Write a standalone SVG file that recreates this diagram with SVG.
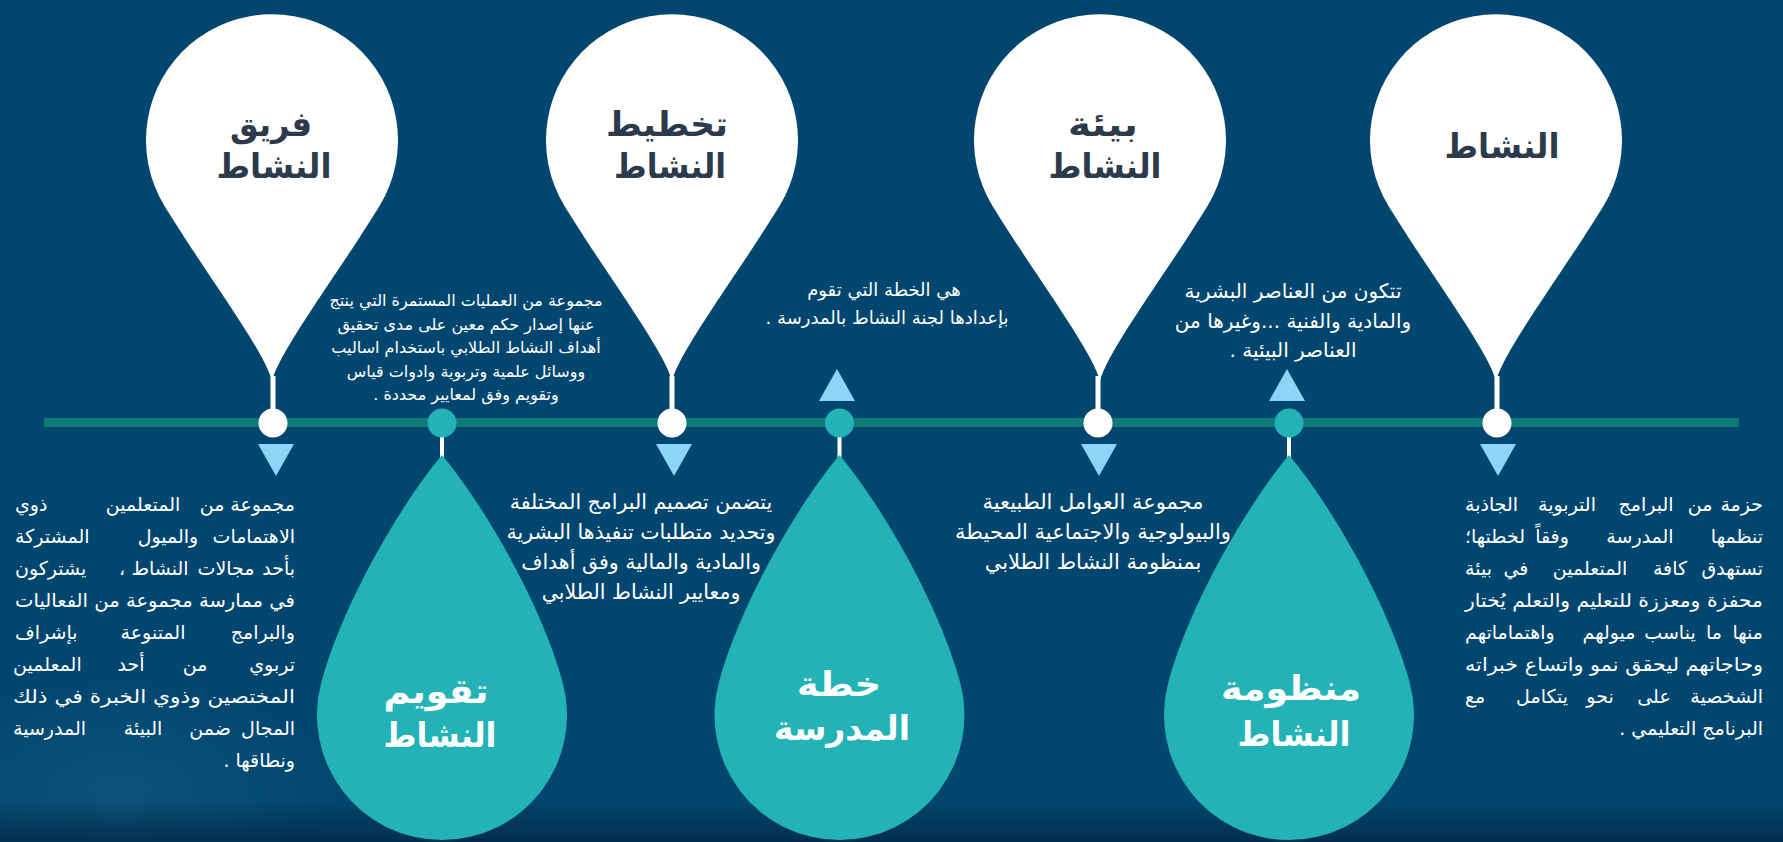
<svg xmlns="http://www.w3.org/2000/svg" width="1783" height="842" viewBox="0 0 1783 842">
<defs>
<style>
.ar{font-family:"DejaVu Sans","Noto Sans",sans-serif;direction:rtl}
.w{fill:#ffffff}
.s16{font-size:16px}
.s18{font-size:18px}
.s19{font-size:19px}
.s20{font-size:20px}
.s21{font-size:21px}
.r{text-anchor:start}
.l{text-anchor:end}
.m{text-anchor:middle}
.tt{font-family:"DejaVu Sans","Noto Sans",sans-serif;direction:rtl;font-weight:bold;font-size:34px;text-anchor:middle}
.dark{fill:#2c3a4c}
.tl{stroke:#0f7a77;stroke-width:9}
.stem{stroke:#ffffff}
.wc{fill:#ffffff}
.tc{fill:#23b3b6}
.tri{fill:#8dd5f6}
</style>
<path id="balloon" d="M0,381 C-8,350 -64.5,276 -107.5,205.9 A126,126 0 1 1 107.5,205.9 C64.5,276 8,350 0,381 Z" fill="#ffffff"/>
<path id="drop" d="M0,455 C-42,505 -100,605 -120.7,682.6 A125,125 0 1 0 120.7,682.6 C100,605 42,505 0,455 Z" fill="#23b3b6"/>
<path id="down" d="M-18,444 L18,444 L0,476 Z" class="tri"/>
<path id="up" d="M-18,401 L18,401 L0,369 Z" class="tri"/>
<linearGradient id="bottomShade" x1="0" y1="0" x2="0" y2="1">
<stop offset="0" stop-color="#001a30" stop-opacity="0"/>
<stop offset="1" stop-color="#001a30" stop-opacity="0.55"/>
</linearGradient>
<radialGradient id="wisp" cx="0.5" cy="0.5" r="0.5">
<stop offset="0" stop-color="#3a8fb0" stop-opacity="0.18"/>
<stop offset="1" stop-color="#3a8fb0" stop-opacity="0"/>
</radialGradient>
</defs>

<rect width="1783" height="842" fill="#01466f"/>
<ellipse cx="120" cy="790" rx="220" ry="110" fill="url(#wisp)"/>
<rect x="0" y="800" width="1783" height="42" fill="url(#bottomShade)"/>

<g id="connectors">
<line class="tl" x1="44" y1="422.5" x2="1739" y2="422.5"/>
<line class="stem" stroke-width="5" x1="273" y1="376" x2="273" y2="412"/>
<line class="stem" stroke-width="5" x1="672" y1="376" x2="672" y2="412"/>
<line class="stem" stroke-width="5" x1="1098" y1="376" x2="1098" y2="412"/>
<line class="stem" stroke-width="5" x1="1497" y1="376" x2="1497" y2="412"/>
<line class="stem" stroke-width="4" x1="442" y1="434" x2="442" y2="460"/>
<line class="stem" stroke-width="4" x1="839.5" y1="434" x2="839.5" y2="460"/>
<line class="stem" stroke-width="4" x1="1289" y1="434" x2="1289" y2="460"/>
<circle class="wc" cx="273" cy="423" r="14.5"/>
<circle class="wc" cx="672" cy="423" r="14.5"/>
<circle class="wc" cx="1098" cy="423" r="14.5"/>
<circle class="wc" cx="1497" cy="423" r="14.5"/>
<circle class="tc" cx="442" cy="423" r="14.5"/>
<circle class="tc" cx="839.5" cy="423" r="14.5"/>
<circle class="tc" cx="1289" cy="423" r="14.5"/>
<use href="#down" x="276"/>
<use href="#down" x="674"/>
<use href="#down" x="1099"/>
<use href="#down" x="1498"/>
<use href="#up" x="837"/>
<use href="#up" x="1287"/>
</g>

<g id="node-team">
<use href="#balloon" x="272"/>
<text class="tt dark" x="271" y="136" textLength="82" lengthAdjust="spacingAndGlyphs">فريق</text>
<text class="tt dark" x="274" y="178" textLength="115" lengthAdjust="spacingAndGlyphs">النشاط</text>
</g>

<g id="node-planning">
<use href="#balloon" x="672"/>
<text class="tt dark" x="667" y="136" textLength="122" lengthAdjust="spacingAndGlyphs">تخطيط</text>
<text class="tt dark" x="670" y="178" textLength="112" lengthAdjust="spacingAndGlyphs">النشاط</text>
</g>

<g id="node-environment">
<use href="#balloon" x="1100"/>
<text class="tt dark" x="1103" y="136" textLength="70" lengthAdjust="spacingAndGlyphs">بيئة</text>
<text class="tt dark" x="1105" y="178" textLength="113" lengthAdjust="spacingAndGlyphs">النشاط</text>
</g>

<g id="node-activity">
<use href="#balloon" x="1496"/>
<text class="tt dark" x="1502" y="158" textLength="115" lengthAdjust="spacingAndGlyphs">النشاط</text>
</g>

<g id="node-evaluation">
<use href="#drop" x="442"/>
<text class="tt w" x="436" y="703" textLength="105" lengthAdjust="spacingAndGlyphs">تقويم</text>
<text class="tt w" x="440" y="747" textLength="113" lengthAdjust="spacingAndGlyphs">النشاط</text>
</g>

<g id="node-school-plan">
<use href="#drop" x="839.5"/>
<text class="tt w" x="839" y="696" textLength="84" lengthAdjust="spacingAndGlyphs">خطة</text>
<text class="tt w" x="842" y="740" textLength="136" lengthAdjust="spacingAndGlyphs">المدرسة</text>
</g>

<g id="node-system">
<use href="#drop" x="1289"/>
<text class="tt w" x="1291" y="700" textLength="140" lengthAdjust="spacingAndGlyphs">منظومة</text>
<text class="tt w" x="1294" y="746" textLength="113" lengthAdjust="spacingAndGlyphs">النشاط</text>
</g>

<g id="text-evaluation" class="ar w s16 m">
<text x="466" y="306">مجموعة من العمليات المستمرة التي ينتج</text>
<text x="466" y="330">عنها إصدار حكم معين على مدى تحقيق</text>
<text x="466" y="353">أهداف النشاط الطلابي باستخدام اساليب</text>
<text x="466" y="377">ووسائل علمية وتربوية وادوات  قياس</text>
<text x="466" y="400">وتقويم وفق لمعايير محددة .</text>
</g>

<g id="text-school-plan" class="ar w s18 m">
<text x="884" y="296">هي الخطة التي تقوم</text>
<text x="887" y="324">بإعدادها لجنة النشاط بالمدرسة .</text>
</g>

<g id="text-environment" class="ar w s20 m">
<text x="1293" y="298">تتكون من العناصر البشرية</text>
<text x="1293" y="328">والمادية والفنية ...وغيرها من</text>
<text x="1293" y="357">العناصر البيئية .</text>
</g>

<g id="text-planning" class="ar w m" style="font-size:20.5px">
<text x="641" y="509">يتضمن تصميم البرامج المختلفة</text>
<text x="641" y="539">وتحديد متطلبات تنفيذها البشرية</text>
<text x="641" y="569">والمادية والمالية وفق  أهداف</text>
<text x="641" y="599">ومعايير النشاط الطلابي</text>
</g>

<g id="text-system" class="ar w s21 m">
<text x="1093" y="509">مجموعة العوامل الطبيعية</text>
<text x="1093" y="539">والبيولوجية والاجتماعية المحيطة</text>
<text x="1093" y="569">بمنظومة النشاط الطلابي</text>
</g>

<g id="text-team" class="ar w s19">
<text class="r" x="295" y="511">مجموعة</text><text class="m" x="212" y="511">من</text><text class="m" x="143" y="511">المتعلمين</text><text class="l" x="15" y="511">ذوي</text>
<text class="r" x="295" y="543">الاهتمامات</text><text class="m" x="168" y="543">والميول</text><text class="l" x="15" y="543">المشتركة</text>
<text class="r" x="295" y="575">بأحد</text><text class="m" x="226" y="575">مجالات</text><text class="m" x="160" y="575">النشاط</text><text class="m" x="122" y="575">،</text><text class="l" x="15" y="575">يشتركون</text>
<text class="r" x="295" y="607" textLength="280" lengthAdjust="spacingAndGlyphs">في ممارسة مجموعة من الفعاليات</text>
<text class="r" x="295" y="639">والبرامج</text><text class="m" x="153" y="639">المتنوعة</text><text class="l" x="15" y="639">بإشراف</text>
<text class="r" x="295" y="671">تربوي</text><text class="m" x="195" y="671">من</text><text class="m" x="131" y="671">أحد</text><text class="l" x="13" y="671">المعلمين</text>
<text class="r" x="295" y="703" textLength="282" lengthAdjust="spacingAndGlyphs">المختصين وذوي الخبرة في ذلك</text>
<text class="r" x="295" y="735">المجال</text><text class="m" x="210" y="735">ضمن</text><text class="m" x="143" y="735">البيئة</text><text class="l" x="13" y="735">المدرسية</text>
<text class="r" x="295" y="767">ونطاقها .</text>
</g>

<g id="text-activity" class="ar w s19">
<text class="r" x="1763" y="511">حزمة</text><text class="m" x="1700" y="511">من</text><text class="m" x="1646" y="511">البرامج</text><text class="m" x="1567" y="511">التربوية</text><text class="l" x="1465" y="511">الجاذبة</text>
<text class="r" x="1763" y="543">تنظمها</text><text class="m" x="1640" y="543">المدرسة</text><text class="m" x="1552" y="543">وفقاً</text><text class="l" x="1465" y="543">لخطتها؛</text>
<text class="r" x="1763" y="575">تستهدق</text><text class="m" x="1670" y="575">كافة</text><text class="m" x="1590" y="575">المتعلمين</text><text class="m" x="1516" y="575">في</text><text class="l" x="1465" y="575">بيئة</text>
<text class="r" x="1763" y="607" textLength="298" lengthAdjust="spacingAndGlyphs">محفزة ومعززة للتعليم والتعلم يُختار</text>
<text class="r" x="1763" y="639">منها</text><text class="m" x="1714" y="639">ما</text><text class="m" x="1670" y="639">يناسب</text><text class="m" x="1609" y="639">ميولهم</text><text class="l" x="1465" y="639">واهتماماتهم</text>
<text class="r" x="1763" y="671" textLength="298" lengthAdjust="spacingAndGlyphs">وحاجاتهم ليحقق نمو واتساع خبراته</text>
<text class="r" x="1763" y="703">الشخصية</text><text class="m" x="1654" y="703">على</text><text class="m" x="1600" y="703">نحو</text><text class="m" x="1542" y="703">يتكامل</text><text class="l" x="1465" y="703">مع</text>
<text class="r" x="1763" y="735">البرنامج التعليمي .</text>
</g>
</svg>
